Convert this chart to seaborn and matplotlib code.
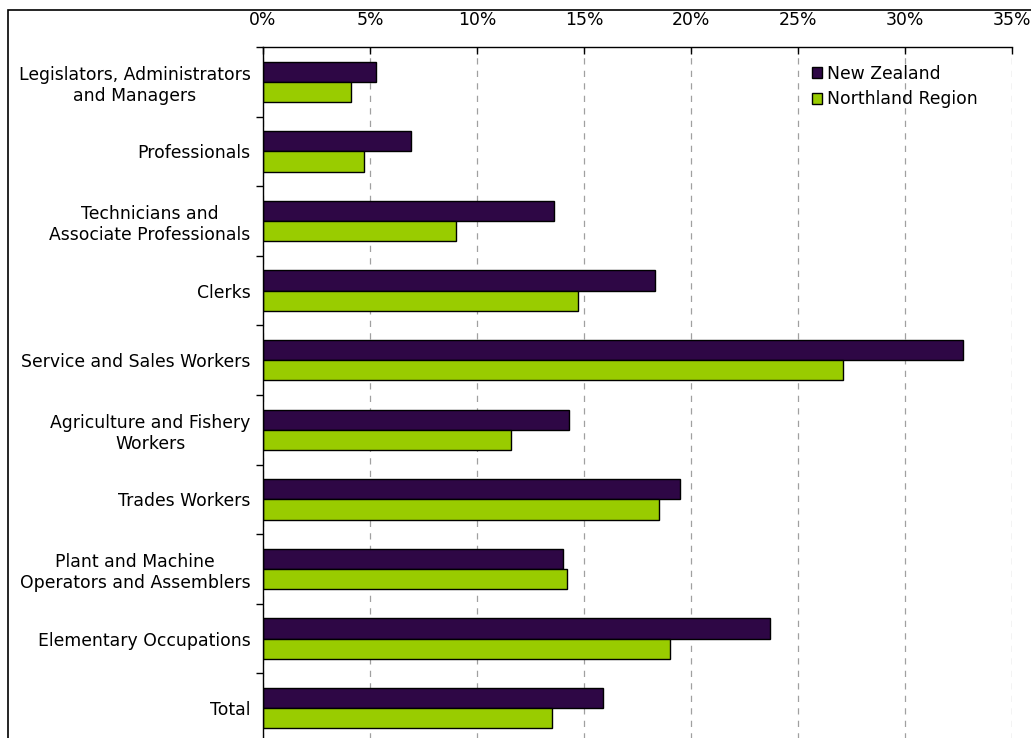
import matplotlib
matplotlib.use("Agg")
import matplotlib.pyplot as plt
from matplotlib.patches import Rectangle
from matplotlib.ticker import FixedLocator, FuncFormatter
import seaborn as sns
import pandas as pd

occupations = [
    "Legislators, Administrators\nand Managers",
    "Professionals",
    "Technicians and\nAssociate Professionals",
    "Clerks",
    "Service and Sales Workers",
    "Agriculture and Fishery\nWorkers",
    "Trades Workers",
    "Plant and Machine\nOperators and Assemblers",
    "Elementary Occupations",
    "Total",
]
new_zealand = [5.3, 6.9, 13.6, 18.3, 32.7, 14.3, 19.5, 14.0, 23.7, 15.9]
northland = [4.1, 4.7, 9.0, 14.7, 27.1, 11.6, 18.5, 14.2, 19.0, 13.5]
series_names = ["New Zealand", "Northland Region"]
series_colors = ["#2E0745", "#99CC00"]
x_ticks = [0, 5, 10, 15, 20, 25, 30, 35]

df = pd.DataFrame({
    "Occupation": occupations * 2,
    "Share": new_zealand + northland,
    "Area": [series_names[0]] * len(occupations) + [series_names[1]] * len(occupations),
})

sns.set_style("white")
plt.rcParams["font.family"] = ["DejaVu Sans"]
plt.rcParams["text.color"] = "black"
plt.rcParams["xtick.color"] = "black"
plt.rcParams["ytick.color"] = "black"

FS = 12.4
W, H = 1031, 738
fig = plt.figure(figsize=(W / 100, H / 100), dpi=100)
left, right, top, bottom = 263, 1012, 47, 743
ax = fig.add_axes([left / W, 1 - bottom / H, (right - left) / W, (bottom - top) / H])

sns.barplot(
    data=df, x="Share", y="Occupation", hue="Area", order=occupations,
    hue_order=series_names, palette=series_colors, orient="h",
    width=0.58, gap=0, edgecolor="black", linewidth=1.0, saturation=1,
    ax=ax, legend=False,
)

ax.set_xlim(0, 35)
ax.set_ylim(len(occupations) - 0.5, -0.5)
ax.xaxis.set_major_locator(FixedLocator(x_ticks))
ax.xaxis.set_major_formatter(FuncFormatter(lambda v, p: f"{v:.0f}%"))
ax.xaxis.tick_top()
ax.tick_params(axis="x", direction="in", length=5, width=1, colors="black",
               labelsize=FS, pad=13, top=True, bottom=False)
ax.tick_params(axis="y", which="major", length=0, labelsize=FS, pad=9)
ax.set_yticks([i + 0.5 for i in range(-1, len(occupations))], minor=True)
ax.tick_params(axis="y", which="minor", direction="out", length=5, width=1, left=True)
for lbl in ax.get_yticklabels():
    lbl.set_horizontalalignment("right")
    lbl.set_multialignment("center")
    lbl.set_color("black")
ax.set_xlabel("")
ax.set_ylabel("")

ax.grid(axis="x", linestyle=(0, (5, 5)), color="#A0A0A0", linewidth=0.9)
ax.set_axisbelow(True)
for side in ["right", "bottom"]:
    ax.spines[side].set_visible(False)
for side in ["top", "left"]:
    ax.spines[side].set_color("black")
    ax.spines[side].set_linewidth(1)

handles = [Rectangle((0, 0), 1, 1, facecolor=c, edgecolor="black", linewidth=1)
           for c in series_colors]
ax.legend(handles, series_names, loc="upper right", bbox_to_anchor=(0.975, 0.997),
          frameon=False, fontsize=FS, handlelength=0.55, handleheight=0.6,
          handletextpad=0.3, labelspacing=0.45)

fig.patches.append(Rectangle((8 / W, -0.01), 1.0, 1 - 10 / H + 0.01,
                             transform=fig.transFigure, fill=False,
                             edgecolor="black", linewidth=1.2))

fig.savefig("out.png", dpi=100)
